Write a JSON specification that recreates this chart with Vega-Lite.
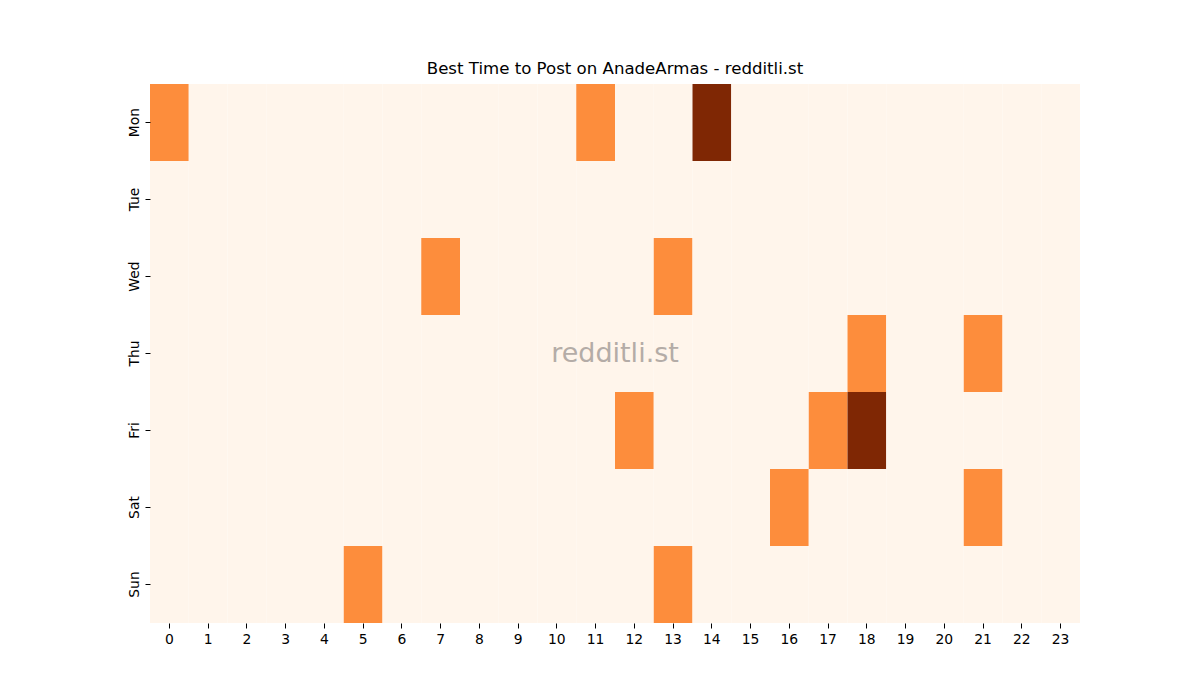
{
  "$schema": "https://vega.github.io/schema/vega-lite/v6.json",
  "autosize": "none",
  "width": 930,
  "height": 539,
  "padding": {"left": 150, "top": 84, "right": 120, "bottom": 77},
  "background": "white",
  "title": {
    "text": "Best Time to Post on AnadeArmas - redditli.st",
    "font": "DejaVu Sans",
    "fontSize": 16.6,
    "fontWeight": "normal",
    "color": "black",
    "offset": 6
  },
  "datasets": {
    "posts": [
      {"day": "Mon", "hour": 0, "count": 1}, {"day": "Mon", "hour": 1, "count": 0}, {"day": "Mon", "hour": 2, "count": 0}, {"day": "Mon", "hour": 3, "count": 0}, {"day": "Mon", "hour": 4, "count": 0}, {"day": "Mon", "hour": 5, "count": 0}, {"day": "Mon", "hour": 6, "count": 0}, {"day": "Mon", "hour": 7, "count": 0}, {"day": "Mon", "hour": 8, "count": 0}, {"day": "Mon", "hour": 9, "count": 0}, {"day": "Mon", "hour": 10, "count": 0}, {"day": "Mon", "hour": 11, "count": 1}, {"day": "Mon", "hour": 12, "count": 0}, {"day": "Mon", "hour": 13, "count": 0}, {"day": "Mon", "hour": 14, "count": 2}, {"day": "Mon", "hour": 15, "count": 0}, {"day": "Mon", "hour": 16, "count": 0}, {"day": "Mon", "hour": 17, "count": 0}, {"day": "Mon", "hour": 18, "count": 0}, {"day": "Mon", "hour": 19, "count": 0}, {"day": "Mon", "hour": 20, "count": 0}, {"day": "Mon", "hour": 21, "count": 0}, {"day": "Mon", "hour": 22, "count": 0}, {"day": "Mon", "hour": 23, "count": 0},
      {"day": "Tue", "hour": 0, "count": 0}, {"day": "Tue", "hour": 1, "count": 0}, {"day": "Tue", "hour": 2, "count": 0}, {"day": "Tue", "hour": 3, "count": 0}, {"day": "Tue", "hour": 4, "count": 0}, {"day": "Tue", "hour": 5, "count": 0}, {"day": "Tue", "hour": 6, "count": 0}, {"day": "Tue", "hour": 7, "count": 0}, {"day": "Tue", "hour": 8, "count": 0}, {"day": "Tue", "hour": 9, "count": 0}, {"day": "Tue", "hour": 10, "count": 0}, {"day": "Tue", "hour": 11, "count": 0}, {"day": "Tue", "hour": 12, "count": 0}, {"day": "Tue", "hour": 13, "count": 0}, {"day": "Tue", "hour": 14, "count": 0}, {"day": "Tue", "hour": 15, "count": 0}, {"day": "Tue", "hour": 16, "count": 0}, {"day": "Tue", "hour": 17, "count": 0}, {"day": "Tue", "hour": 18, "count": 0}, {"day": "Tue", "hour": 19, "count": 0}, {"day": "Tue", "hour": 20, "count": 0}, {"day": "Tue", "hour": 21, "count": 0}, {"day": "Tue", "hour": 22, "count": 0}, {"day": "Tue", "hour": 23, "count": 0},
      {"day": "Wed", "hour": 0, "count": 0}, {"day": "Wed", "hour": 1, "count": 0}, {"day": "Wed", "hour": 2, "count": 0}, {"day": "Wed", "hour": 3, "count": 0}, {"day": "Wed", "hour": 4, "count": 0}, {"day": "Wed", "hour": 5, "count": 0}, {"day": "Wed", "hour": 6, "count": 0}, {"day": "Wed", "hour": 7, "count": 1}, {"day": "Wed", "hour": 8, "count": 0}, {"day": "Wed", "hour": 9, "count": 0}, {"day": "Wed", "hour": 10, "count": 0}, {"day": "Wed", "hour": 11, "count": 0}, {"day": "Wed", "hour": 12, "count": 0}, {"day": "Wed", "hour": 13, "count": 1}, {"day": "Wed", "hour": 14, "count": 0}, {"day": "Wed", "hour": 15, "count": 0}, {"day": "Wed", "hour": 16, "count": 0}, {"day": "Wed", "hour": 17, "count": 0}, {"day": "Wed", "hour": 18, "count": 0}, {"day": "Wed", "hour": 19, "count": 0}, {"day": "Wed", "hour": 20, "count": 0}, {"day": "Wed", "hour": 21, "count": 0}, {"day": "Wed", "hour": 22, "count": 0}, {"day": "Wed", "hour": 23, "count": 0},
      {"day": "Thu", "hour": 0, "count": 0}, {"day": "Thu", "hour": 1, "count": 0}, {"day": "Thu", "hour": 2, "count": 0}, {"day": "Thu", "hour": 3, "count": 0}, {"day": "Thu", "hour": 4, "count": 0}, {"day": "Thu", "hour": 5, "count": 0}, {"day": "Thu", "hour": 6, "count": 0}, {"day": "Thu", "hour": 7, "count": 0}, {"day": "Thu", "hour": 8, "count": 0}, {"day": "Thu", "hour": 9, "count": 0}, {"day": "Thu", "hour": 10, "count": 0}, {"day": "Thu", "hour": 11, "count": 0}, {"day": "Thu", "hour": 12, "count": 0}, {"day": "Thu", "hour": 13, "count": 0}, {"day": "Thu", "hour": 14, "count": 0}, {"day": "Thu", "hour": 15, "count": 0}, {"day": "Thu", "hour": 16, "count": 0}, {"day": "Thu", "hour": 17, "count": 0}, {"day": "Thu", "hour": 18, "count": 1}, {"day": "Thu", "hour": 19, "count": 0}, {"day": "Thu", "hour": 20, "count": 0}, {"day": "Thu", "hour": 21, "count": 1}, {"day": "Thu", "hour": 22, "count": 0}, {"day": "Thu", "hour": 23, "count": 0},
      {"day": "Fri", "hour": 0, "count": 0}, {"day": "Fri", "hour": 1, "count": 0}, {"day": "Fri", "hour": 2, "count": 0}, {"day": "Fri", "hour": 3, "count": 0}, {"day": "Fri", "hour": 4, "count": 0}, {"day": "Fri", "hour": 5, "count": 0}, {"day": "Fri", "hour": 6, "count": 0}, {"day": "Fri", "hour": 7, "count": 0}, {"day": "Fri", "hour": 8, "count": 0}, {"day": "Fri", "hour": 9, "count": 0}, {"day": "Fri", "hour": 10, "count": 0}, {"day": "Fri", "hour": 11, "count": 0}, {"day": "Fri", "hour": 12, "count": 1}, {"day": "Fri", "hour": 13, "count": 0}, {"day": "Fri", "hour": 14, "count": 0}, {"day": "Fri", "hour": 15, "count": 0}, {"day": "Fri", "hour": 16, "count": 0}, {"day": "Fri", "hour": 17, "count": 1}, {"day": "Fri", "hour": 18, "count": 2}, {"day": "Fri", "hour": 19, "count": 0}, {"day": "Fri", "hour": 20, "count": 0}, {"day": "Fri", "hour": 21, "count": 0}, {"day": "Fri", "hour": 22, "count": 0}, {"day": "Fri", "hour": 23, "count": 0},
      {"day": "Sat", "hour": 0, "count": 0}, {"day": "Sat", "hour": 1, "count": 0}, {"day": "Sat", "hour": 2, "count": 0}, {"day": "Sat", "hour": 3, "count": 0}, {"day": "Sat", "hour": 4, "count": 0}, {"day": "Sat", "hour": 5, "count": 0}, {"day": "Sat", "hour": 6, "count": 0}, {"day": "Sat", "hour": 7, "count": 0}, {"day": "Sat", "hour": 8, "count": 0}, {"day": "Sat", "hour": 9, "count": 0}, {"day": "Sat", "hour": 10, "count": 0}, {"day": "Sat", "hour": 11, "count": 0}, {"day": "Sat", "hour": 12, "count": 0}, {"day": "Sat", "hour": 13, "count": 0}, {"day": "Sat", "hour": 14, "count": 0}, {"day": "Sat", "hour": 15, "count": 0}, {"day": "Sat", "hour": 16, "count": 1}, {"day": "Sat", "hour": 17, "count": 0}, {"day": "Sat", "hour": 18, "count": 0}, {"day": "Sat", "hour": 19, "count": 0}, {"day": "Sat", "hour": 20, "count": 0}, {"day": "Sat", "hour": 21, "count": 1}, {"day": "Sat", "hour": 22, "count": 0}, {"day": "Sat", "hour": 23, "count": 0},
      {"day": "Sun", "hour": 0, "count": 0}, {"day": "Sun", "hour": 1, "count": 0}, {"day": "Sun", "hour": 2, "count": 0}, {"day": "Sun", "hour": 3, "count": 0}, {"day": "Sun", "hour": 4, "count": 0}, {"day": "Sun", "hour": 5, "count": 1}, {"day": "Sun", "hour": 6, "count": 0}, {"day": "Sun", "hour": 7, "count": 0}, {"day": "Sun", "hour": 8, "count": 0}, {"day": "Sun", "hour": 9, "count": 0}, {"day": "Sun", "hour": 10, "count": 0}, {"day": "Sun", "hour": 11, "count": 0}, {"day": "Sun", "hour": 12, "count": 0}, {"day": "Sun", "hour": 13, "count": 1}, {"day": "Sun", "hour": 14, "count": 0}, {"day": "Sun", "hour": 15, "count": 0}, {"day": "Sun", "hour": 16, "count": 0}, {"day": "Sun", "hour": 17, "count": 0}, {"day": "Sun", "hour": 18, "count": 0}, {"day": "Sun", "hour": 19, "count": 0}, {"day": "Sun", "hour": 20, "count": 0}, {"day": "Sun", "hour": 21, "count": 0}, {"day": "Sun", "hour": 22, "count": 0}, {"day": "Sun", "hour": 23, "count": 0}
    ],
    "watermark": [{"label": "redditli.st"}]
  },
  "layer": [
    {
      "data": {"name": "posts"},
      "mark": {"type": "rect"},
      "encoding": {
        "x": {
          "field": "hour",
          "type": "ordinal",
          "scale": {"domain": [0,1,2,3,4,5,6,7,8,9,10,11,12,13,14,15,16,17,18,19,20,21,22,23], "paddingInner": 0, "paddingOuter": 0},
          "axis": {"title": null, "labelAngle": 0}
        },
        "y": {
          "field": "day",
          "type": "ordinal",
          "scale": {"domain": ["Mon", "Tue", "Wed", "Thu", "Fri", "Sat", "Sun"], "paddingInner": 0, "paddingOuter": 0},
          "axis": {"title": null, "labelAngle": -90}
        },
        "color": {
          "field": "count",
          "type": "quantitative",
          "scale": {"domain": [0, 2], "range": ["#fff5eb", "#fd8d3c", "#7f2704"]},
          "legend": null
        }
      }
    },
    {
      "data": {"name": "watermark"},
      "mark": {
        "type": "text",
        "font": "DejaVu Sans",
        "fontSize": 27,
        "color": "#b4aca7",
        "align": "center",
        "baseline": "middle"
      },
      "encoding": {"text": {"field": "label"}}
    }
  ],
  "config": {
    "view": {"stroke": null},
    "axis": {
      "domain": false,
      "grid": false,
      "labelFont": "DejaVu Sans",
      "labelFontSize": 13.9,
      "labelColor": "black",
      "tickColor": "black",
      "tickSize": 5,
      "tickWidth": 1,
      "labelPadding": 4
    }
  }
}
